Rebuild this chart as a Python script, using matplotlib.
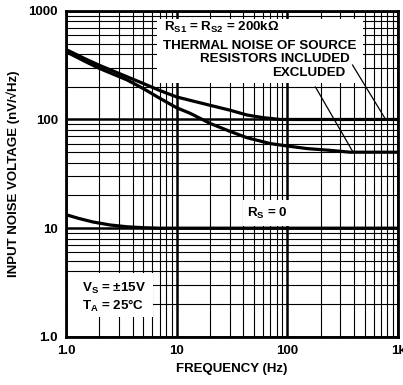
import numpy as np
import matplotlib
matplotlib.use('Agg')
import matplotlib.pyplot as plt
from matplotlib.patches import Rectangle
from matplotlib.ticker import FixedLocator, LogLocator, NullFormatter

plt.rcParams['font.family'] = ['Liberation Sans', 'DejaVu Sans']
plt.rcParams['font.weight'] = 'bold'
plt.rcParams['mathtext.fontset'] = 'custom'
plt.rcParams['mathtext.rm'] = 'Liberation Sans:bold'
plt.rcParams['mathtext.bf'] = 'Liberation Sans:bold'
plt.rcParams['mathtext.it'] = 'Liberation Sans:bold'

# curves
f_incl = [1, 1.5, 2, 3.56, 5, 7, 10, 13.2, 20, 30, 43, 60, 86, 150, 300, 1000]
v_incl = [440, 360, 315, 247, 214, 185, 161, 150, 135, 122, 110, 104, 100, 100, 100, 100]

f_excl = [1, 1.5, 2, 3.56, 5, 7, 10, 13.2, 20, 30, 43, 70, 100, 150, 243, 368, 500, 1000]
v_excl = [420, 340, 295, 231, 192, 157, 128, 114, 92, 78, 68, 60, 57, 54, 52, 50, 50, 50]

f_rs0 = [1, 1.3, 1.75, 2.5, 3.56, 5, 7, 10, 100, 1000]
v_rs0 = [13.3, 12.3, 11.4, 10.7, 10.3, 10.1, 10.0, 10.0, 10.0, 10.0]

xticks = [1, 10, 100, 1000]
xticklabels = ['1.0', '10', '100', '1k']
yticks = [1, 10, 100, 1000]
yticklabels = ['1.0', '10', '100', '1000']

fig = plt.figure(figsize=(4.03, 3.85), dpi=100)
ax = fig.add_axes([0.164, 0.125, 0.824, 0.847])
ax.set_xscale('log')
ax.set_yscale('log')
ax.set_xlim(1, 1000)
ax.set_ylim(1, 1000)

# grid
ax.xaxis.set_minor_locator(LogLocator(base=10, subs=np.arange(2, 10)))
ax.yaxis.set_minor_locator(LogLocator(base=10, subs=np.arange(2, 10)))
ax.xaxis.set_minor_formatter(NullFormatter())
ax.yaxis.set_minor_formatter(NullFormatter())
ax.grid(which='minor', color='black', lw=0.8)
ax.grid(which='major', color='black', lw=1.8)
ax.set_axisbelow(True)

ax.xaxis.set_major_locator(FixedLocator(xticks))
ax.yaxis.set_major_locator(FixedLocator(yticks))
ax.set_xticklabels(xticklabels, fontsize=9.5, fontweight='bold')
ax.set_yticklabels(yticklabels, fontsize=9.5, fontweight='bold')
ax.tick_params(which='both', length=0, pad=6)
for s in ax.spines.values():
    s.set_linewidth(2)

ax.plot(f_incl, v_incl, color='black', lw=2.3, zorder=3)
ax.plot(f_excl, v_excl, color='black', lw=2.3, zorder=3)
ax.plot(f_rs0, v_rs0, color='black', lw=2.3, zorder=3)

# white label boxes
for (x0, y0, w, h) in [(0.274, 0.78, 0.62, 0.195), (0.533, 0.34, 0.151, 0.08), (0.006, 0.061, 0.256, 0.135)]:
    ax.add_patch(Rectangle((x0, y0), w, h, transform=ax.transAxes,
                           facecolor='white', edgecolor='none', zorder=2))

fs = 9.6
ax.text(0.295, 0.948, r'R$_{\mathrm{S1}}$ = R$_{\mathrm{S2}}$ = 200k$\Omega$', transform=ax.transAxes,
        fontsize=fs, va='center', ha='left', zorder=4)
ax.text(0.292, 0.893, 'THERMAL NOISE OF SOURCE', transform=ax.transAxes,
        fontsize=fs, va='center', ha='left', zorder=4)
ax.text(0.855, 0.853, 'RESISTORS INCLUDED', transform=ax.transAxes,
        fontsize=fs, va='center', ha='right', zorder=4)
ax.text(0.84, 0.81, 'EXCLUDED', transform=ax.transAxes,
        fontsize=fs, va='center', ha='right', zorder=4)
ax.text(0.605, 0.38, r'R$_{\mathrm{S}}$ = 0', transform=ax.transAxes,
        fontsize=fs, va='center', ha='center', zorder=4)
ax.text(0.048, 0.15, r'V$_{\mathrm{S}}$ = $\pm$15V', transform=ax.transAxes,
        fontsize=fs, va='center', ha='left', zorder=4)
ax.text(0.048, 0.095, r'T$_{\mathrm{A}}$ = 25$\degree$C', transform=ax.transAxes,
        fontsize=fs, va='center', ha='left', zorder=4)

# leader lines
ax.plot([387, 771], [317, 100], color='black', lw=0.9, zorder=4)
ax.plot([179, 387], [199, 51], color='black', lw=0.9, zorder=4)

ax.set_xlabel('FREQUENCY (Hz)', fontsize=9.5, fontweight='bold', labelpad=4)
ax.set_ylabel('INPUT NOISE VOLTAGE (nV/\u221aHz)', fontsize=9.5, fontweight='bold', labelpad=6)

fig.savefig('out.png', dpi=100)
